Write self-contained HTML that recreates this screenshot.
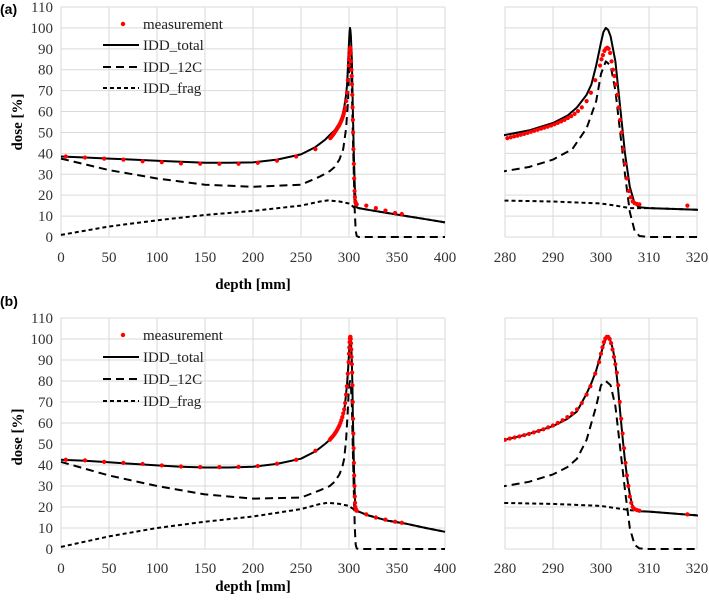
<!DOCTYPE html>
<html><head><meta charset="utf-8"><style>
body{margin:0;background:#fff}
svg{display:block;font-family:"Liberation Serif",serif}
</style></head><body>
<svg id="fig" width="709" height="606" viewBox="0 0 709 606"></svg>
<script>
// ---- panel (a) data ----
const aTotD=[0,25,50,75,100,125,150,175,200,225,250,265,275,280,285,290,293,295,297,298,299,300,300.5,301,301.5,302,303,304,305,306,307,308,310,320,340,360,380,400];
const aTotV=[38.5,38,37.5,37,36.5,36,35.5,35.5,35.7,37,39.5,43,46.5,48.8,51,54.5,58,62,68,73,82,93,98,100,99,96,84,62,40,24,16,14.2,13.8,13,11.5,10,8.5,7];
const aCD=[0,50,100,150,200,250,270,280,285,290,294,297,299,300,301,302,303,304,305,306,307,308,310,400];
const aCV=[37.5,32,28,25,24,25,29,31.5,33.5,37,42,52,65,78,84,82,70,50,30,12,3,0.5,0,0];
const aFD=[0,50,100,150,200,250,270,278,290,300,303,306,310,320,340,360,380,400];
const aFV=[1,5,8,10.5,12.5,15,17,17.5,17,16,15,13.8,13.8,13,11.5,10,8.5,7];
const aMD=[5,25,45,65,85,105,125,145,165,185,205,225,245,265,280.5,281.2,281.9,282.6,283.3,284,284.7,285.4,286.1,286.8,287.5,288.2,288.9,289.6,290.3,291,291.7,292.4,293.1,293.8,294.5,295.2,296,297,297.9,298.8,299.8,300.1,300.4,300.7,301,301.3,301.6,301.9,302.2,302.5,302.8,303.1,303.4,303.7,304,304.3,304.6,305,305.4,305.8,306.2,306.6,307,307.5,308,318,328,338,348,355];
const aMV=[38.5,38,37.5,37,36.2,35.8,35.2,35.1,35,35,35.5,36.5,38.5,42,47.3,47.7,48.1,48.5,48.9,49.3,49.8,50.3,50.8,51.3,51.8,52.3,52.8,53.3,53.9,54.6,55.3,56,56.9,57.8,58.9,60.2,62,65,69,75,82,85,87,89,90,90.5,90,88,84,80,77,73,68,62,56,50,42,35,28,22,19,17,16.2,15.8,15.6,15,13.8,12.6,11.5,11];
// ---- panel (b) data ----
const bTotD=[0,25,50,75,100,125,150,175,200,225,250,265,275,280,285,290,293,295,297,298,299,300,300.5,301,301.5,302,302.5,303,303.5,304,304.5,305,305.5,306,306.5,307,308,310,320,340,360,380,400];
const bTotV=[42.5,42,41.3,40.5,39.8,39.2,38.8,38.8,39.2,40.5,43,46.5,50,52,54.8,58.5,62,65.5,74,79,85,93,97,100,101,99,95,88,78,65,53,42,33,26,21,19,18,17.8,16,13.5,12,10,8.2];
const bCD=[0,50,100,150,200,250,270,280,285,290,293,295,297,299,300,301,302,303,304,305,306,307,308,310,400];
const bCV=[41.5,35,30,26,24,24.5,28,30,32,35.5,39,43,52,68,78,80,78,68,48,28,10,2,0.3,0,0];
const bFD=[0,50,100,150,200,250,270,278,290,300,303,306,308,310,320,340,360,380,400];
const bFV=[1,6,10,13,15.5,19,21.5,22,21.5,20.5,19.5,18.5,18,17.8,16,13.5,12,10,8.2];
const bMD=[5,25,45,65,85,105,125,145,165,185,205,225,245,265,280,281,282,283,284,285,286,287,288,289,290,291,292,293,294,295,296,297,297.8,298.8,299.6,300,300.3,300.6,300.9,301.2,301.5,301.8,302.1,302.4,302.7,303,303.3,303.6,303.9,304.2,304.5,304.8,305.1,305.4,305.7,306,306.3,306.6,307,307.5,308,318,328,338,348,355];
const bMV=[42.5,42.2,41.5,41,40.5,39.8,39.3,39,39,39.1,39.5,40.6,42.5,46.8,52,52.6,53.1,53.6,54.2,54.8,55.5,56.2,57,57.9,58.8,60,61.3,62.8,64.6,66.5,69.5,73.5,77.5,83.5,89,93,96,98.5,100.2,101,101,100,98,95,91.5,88,84,78,70,62,55,48,41,35,30,25,22,20,19,18.5,18.2,16.5,15,14,13,12.5];
const yTicks=[0,10,20,30,40,50,60,70,80,90,100,110];
const xTicksL=[0,50,100,150,200,250,300,350,400];
const xTicksR=[280,290,300,310,320];
const legendLabels=["measurement","IDD_total","IDD_12C","IDD_frag"];

const NS="http://www.w3.org/2000/svg";
const svg=document.getElementById('fig');
function mk(tag,attrs,parent){const e=document.createElementNS(NS,tag);for(const k in attrs)e.setAttribute(k,attrs[k]);(parent||svg).appendChild(e);return e;}

function plot(p){
  const sx=v=>p.px0+(v-p.d0)/(p.d1-p.d0)*(p.px1-p.px0);
  const sy=v=>p.py0+(v/110)*(p.py110-p.py0);
  const g=mk('g',{});
  
  
  const cid='clip-'+p.name;
  const cp=mk('clipPath',{id:cid},g);
  mk('rect',{x:p.px0-1,y:p.py110-3,width:p.px1-p.px0+2,height:p.py0-p.py110+6},cp);
  yTicks.forEach(t=>{const l=mk('line',{x1:p.px0,x2:p.px1,y1:sy(t),y2:sy(t),stroke:'#d9d9d9','stroke-width':1},g);
    
    if(p.yLabels){const tx=mk('text',{x:53,y:sy(t)+5,'text-anchor':'end','font-size':15,fill:'#333'},g);tx.textContent=t;
      }});
  p.xt.forEach(t=>{const l=mk('line',{x1:sx(t),x2:sx(t),y1:sy(0),y2:sy(110),stroke:'#d9d9d9','stroke-width':1},g);
    
    const tx=mk('text',{x:sx(t),y:p.xLabY,'text-anchor':'middle','font-size':15,fill:'#333'},g);tx.textContent=t;
    });
  const cg=mk('g',{'clip-path':'url(#'+cid+')'},g);
  function line(D,V,dash,name){const pts=D.map((d,i)=>sx(d).toFixed(1)+','+sy(V[i]).toFixed(1)).join(' ');
    const e=mk('polyline',{points:pts,fill:'none',stroke:'#000','stroke-width':2,'stroke-dasharray':dash||'none','stroke-linejoin':'round'},cg);
    }
  line(p.fD,p.fV,'4,3','idd-frag-line');
  line(p.cD,p.cV,'8,5','idd-12c-line');
  line(p.tD,p.tV,null,'idd-total-line');
  p.mD.forEach((d,i)=>{const c=mk('circle',{cx:sx(d),cy:sy(p.mV[i]),r:2.1,fill:'#ff0000'},cg);
    });
}
function panel(lbl,y0,y110,xLabY,depthY,doseY,legY,lblY,T,TV,C,CV,F,FV,M,MV){
  const t=mk('text',{x:0,y:lblY,'font-family':'Liberation Sans, sans-serif','font-weight':'bold','font-size':14},svg);t.textContent=lbl;
  
  plot({name:'main-plot'+lbl.replace(/\W/g,''),d0:0,d1:400,px0:61,px1:445,py0:y0,py110:y110,xt:xTicksL,yLabels:true,xLabY:xLabY,tD:T,tV:TV,cD:C,cV:CV,fD:F,fV:FV,mD:M,mV:MV});
  plot({name:'zoom-plot'+lbl.replace(/\W/g,''),d0:280,d1:320,px0:505,px1:697,py0:y0,py110:y110,xt:xTicksR,yLabels:false,xLabY:xLabY,tD:T,tV:TV,cD:C,cV:CV,fD:F,fV:FV,mD:M,mV:MV});
  const dx=mk('text',{x:253,y:depthY,'text-anchor':'middle','font-weight':'bold','font-size':15},svg);dx.textContent='depth [mm]';
  
  const dy=mk('text',{x:0,y:0,'text-anchor':'middle','font-weight':'bold','font-size':15,transform:'translate(22,'+doseY+') rotate(-90)'},svg);dy.textContent='dose [%]';
  
  legendLabels.forEach((s,i)=>{const y=legY[i];
    const g=mk('g',{},svg);
    if(i===0)mk('circle',{cx:123,cy:y,r:2.2,fill:'#ff0000'},g);
    else mk('line',{x1:103,x2:139,y1:y,y2:y,stroke:'#000','stroke-width':2,'stroke-dasharray':i===1?'none':(i===2?'8,5':'4,3')},g);
    const tx=mk('text',{x:143,y:y+5,'font-size':15,fill:'#222'},g);tx.textContent=s;});
}
panel('(a)',237,7,262,289,122,[24,45,67,88],14,aTotD,aTotV,aCD,aCV,aFD,aFV,aMD,aMV);
panel('(b)',549,318,573,591,437,[335,357,379,401],306,bTotD,bTotV,bCD,bCV,bFD,bFV,bMD,bMV);
</script>
</body></html>
